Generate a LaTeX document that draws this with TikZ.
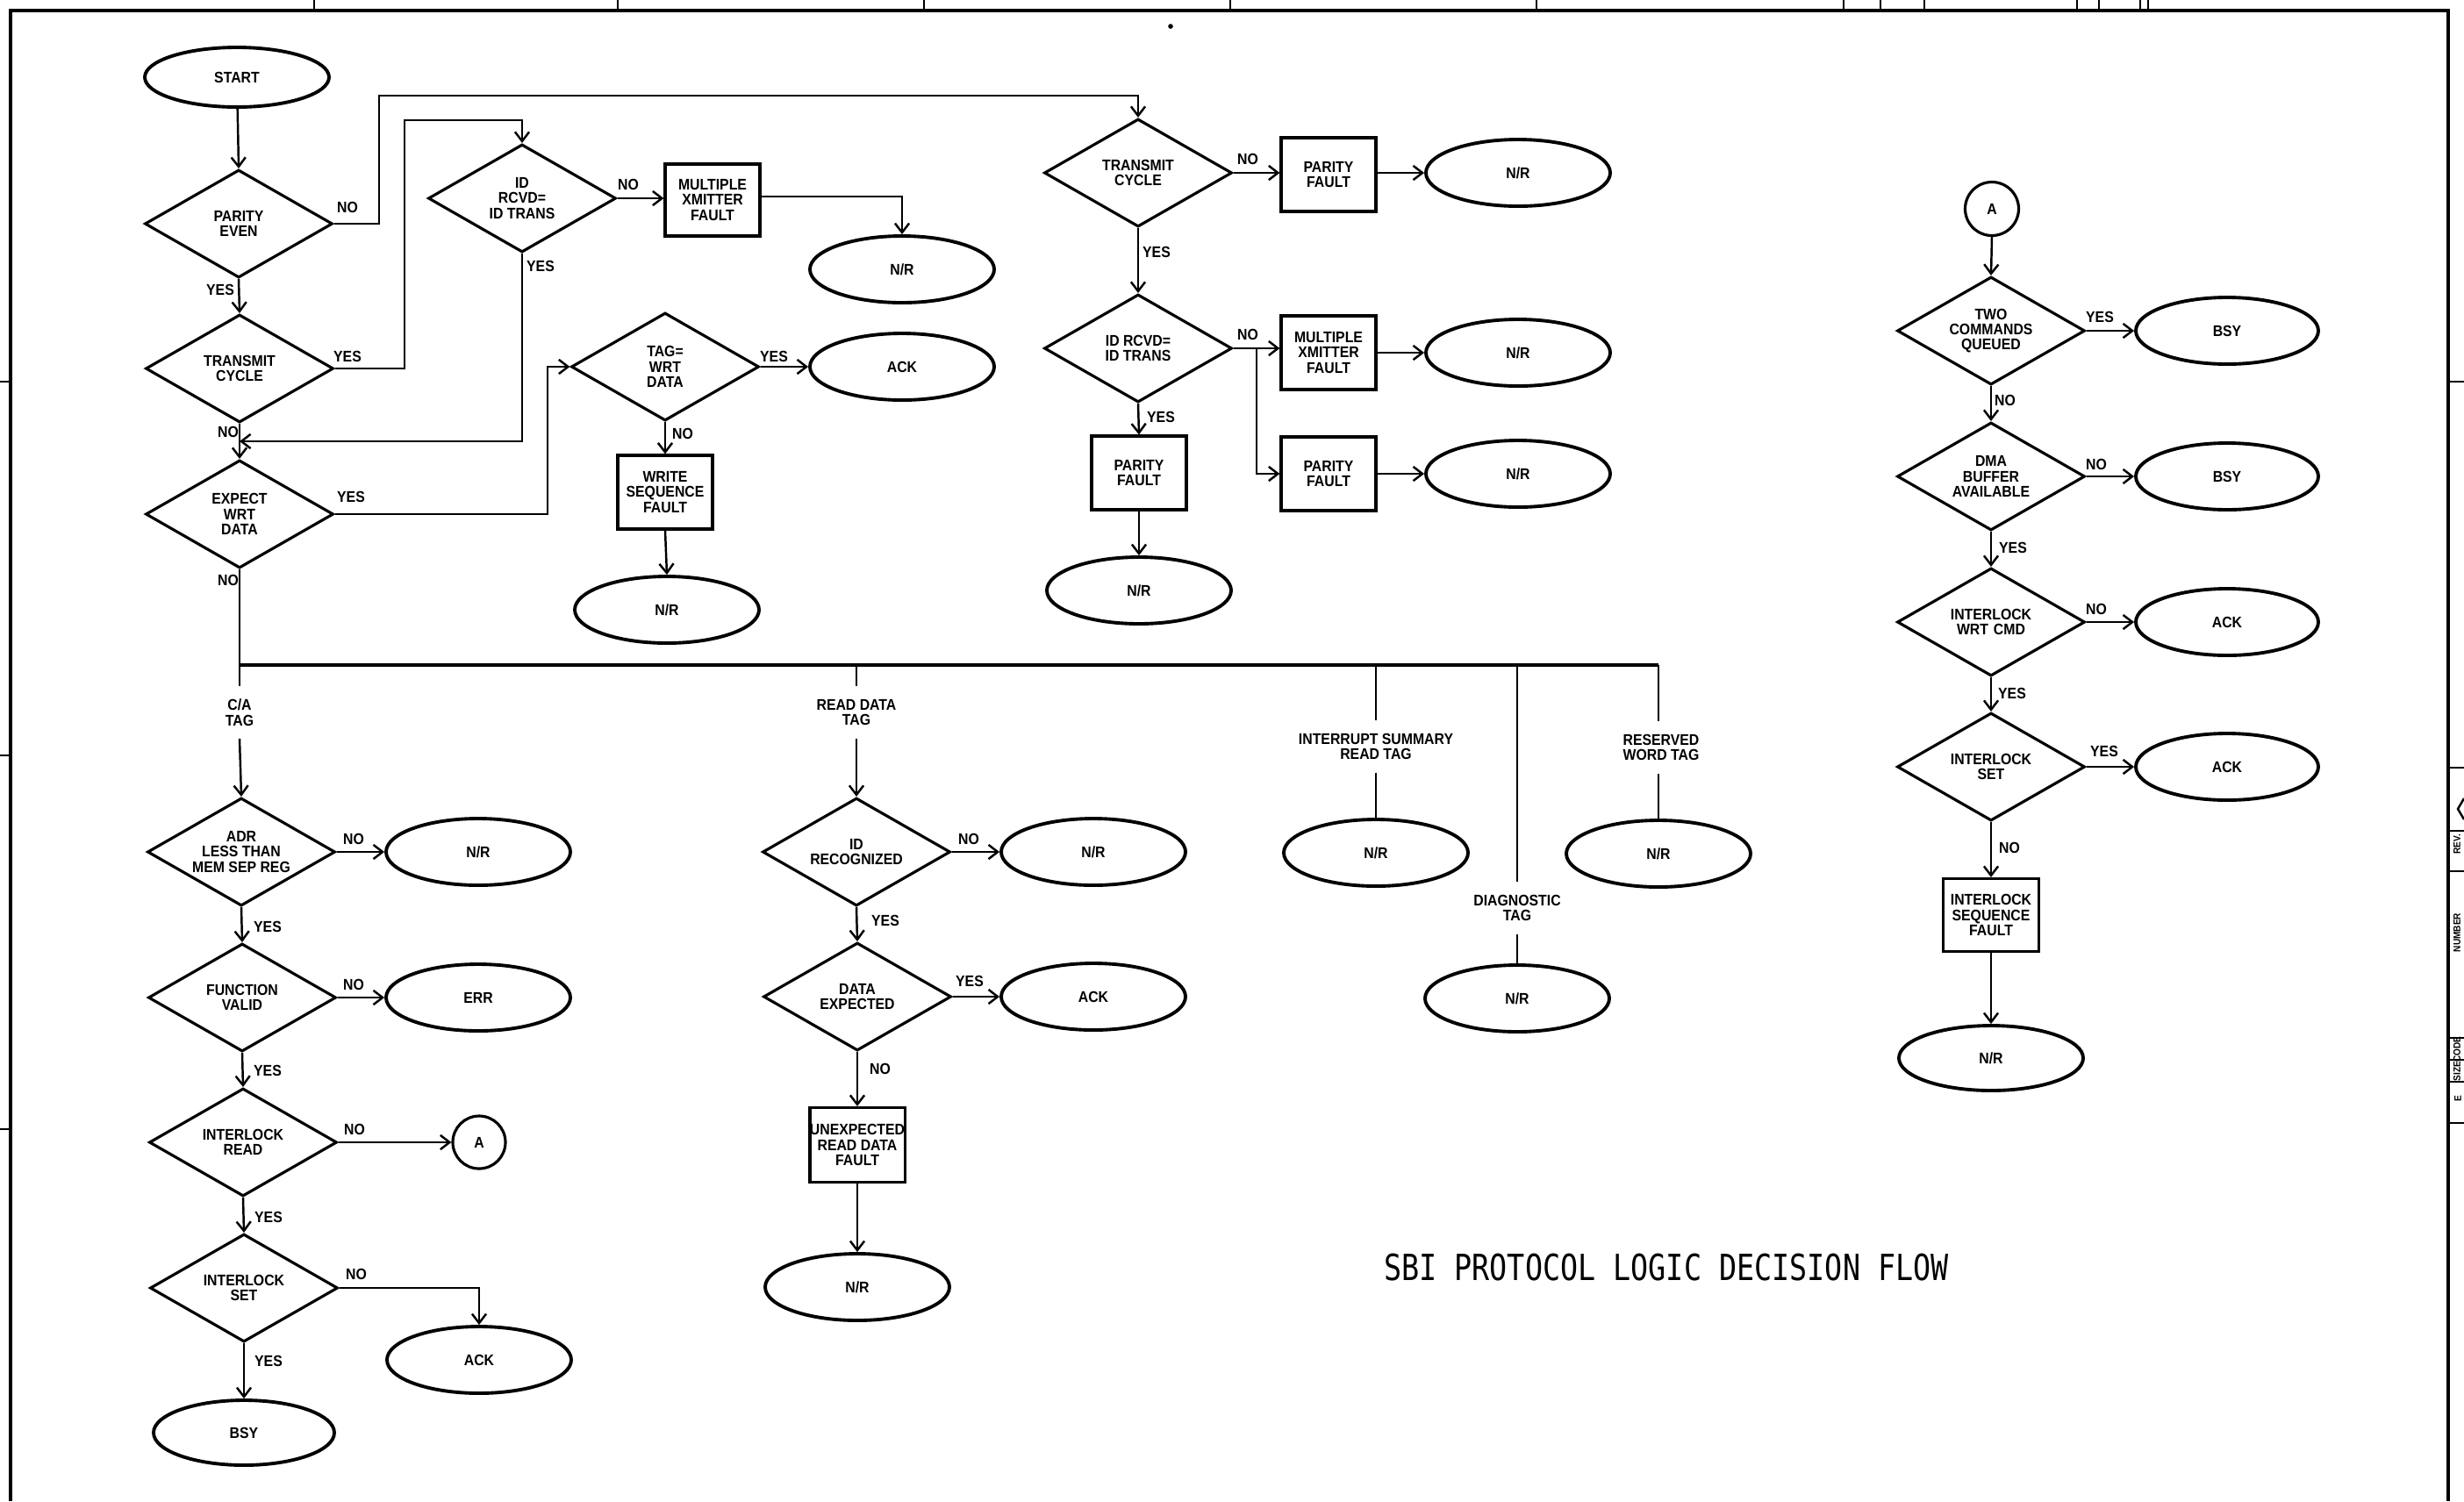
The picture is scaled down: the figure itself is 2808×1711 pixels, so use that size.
\documentclass[tikz,border=0pt]{standalone}
\usepackage{fontspec}
\usepackage{graphicx}
\usetikzlibrary{shapes.geometric,arrows.meta,calc}
\newfontfamily\plotfont{Liberation Sans}[FakeStretch=0.9]
\newfontfamily\titlefont{DejaVu Sans Mono}
\newlength\px \setlength\px{0.01cm}
\begin{document}
\begin{tikzpicture}[x=0.01cm,y=-0.01cm,
  every node/.style={font=\plotfont\bfseries\fontsize{5}{4.95}\selectfont, align=center},
  ln/.style={line width=0.7pt},
  arr/.style={ln,-{Straight Barb[length=3pt,width=4.6pt]}},
  dec/.style={diamond, draw, line width=0.9pt, aspect=1.74, minimum width=214\px, minimum height=123\px, inner sep=0pt},
  term/.style={ellipse, draw, line width=1.1pt, minimum width=210\px, minimum height=76\px, inner sep=0pt},
  proc/.style={rectangle, draw, line width=0.9pt, minimum width=108\px, minimum height=84\px, inner sep=0pt},
  conn/.style={circle, draw, line width=0.9pt, minimum size=61\px, inner sep=0pt},
  lbl/.style={inner sep=0pt},
  tagl/.style={inner sep=4pt},
  tiny/.style={font=\plotfont\bfseries\fontsize{3.2}{3.5}\selectfont, inner sep=0pt, rotate=90},
  frame/.style={line width=1pt}]
\useasboundingbox (0,0) rectangle (2808,1711);

% ---------- sheet frame ----------
\draw[frame] (12,1711) -- (12,12) -- (2790,12) -- (2790,1711);
\foreach \x in {358,704,1053,1402,1751,2101,2143,2193,2367,2392,2439,2448}
  \draw[ln] (\x,0) -- (\x,12);
\foreach \y in {435,861,1287}
  \draw[ln] (0,\y) -- (12,\y);
\foreach \y in {435,875,947,993,1183,1208,1233,1280}
  \draw[ln] (2790,\y) -- (2808,\y);
\draw[ln] (2808,910) -- (2801,922) -- (2808,934);
\node[tiny] (rev) at (2800,962) {REV.};
\node[tiny] (num) at (2800,1063) {NUMBER};
\node[tiny] (code) at (2800,1196) {CODE};
\node[tiny] (size) at (2800,1221) {SIZE};
\node[tiny] (sz) at (2801,1252) {E};
\fill (1334,30) circle[radius=0.8pt];

% ---------- nodes: top-left ----------
\node[term, minimum height=68\px] (start) at (270,88) {START};
\node[dec] (pe) at (272,255) {PARITY\\EVEN};
\node[dec] (tca) at (273,420) {TRANSMIT\\CYCLE};
\node[dec] (ewd) at (273,586) {EXPECT\\WRT\\DATA};
\node[dec] (idra) at (595,226) {ID\\RCVD=\\ID TRANS};
\node[proc, minimum height=82\px] (mxfa) at (812,228) {MULTIPLE\\XMITTER\\FAULT};
\node[term] (nra) at (1028,307) {N/R};
\node[dec] (tag) at (758,418) {TAG=\\WRT\\DATA};
\node[term] (acka) at (1028,418) {ACK};
\node[proc] (wsf) at (758,561) {WRITE\\SEQUENCE\\FAULT};
\node[term] (nrb) at (760,695) {N/R};

% ---------- nodes: top-middle ----------
\node[dec] (tcb) at (1297,197) {TRANSMIT\\CYCLE};
\node[proc] (pfa) at (1514,199) {PARITY\\FAULT};
\node[term] (nrc) at (1730,197) {N/R};
\node[dec] (idrb) at (1297,397) {ID RCVD=\\ID TRANS};
\node[proc] (mxfb) at (1514,402) {MULTIPLE\\XMITTER\\FAULT};
\node[term] (nrd) at (1730,402) {N/R};
\node[proc] (pfb) at (1514,540) {PARITY\\FAULT};
\node[term] (nre) at (1730,540) {N/R};
\node[proc] (pfc) at (1298,539) {PARITY\\FAULT};
\node[term] (nrf) at (1298,673) {N/R};

% ---------- connectors: top-left ----------
\coordinate (c1) at (432,109);
\coordinate (c2) at (461,137);
\coordinate (j1) at (273,503);
\coordinate (c4) at (624,418);
\draw[arr] (start) -- (pe.north);
\draw[arr] (pe.east) -| (c1) -| (tcb.north);
\draw[arr] (pe.south) -- (tca.north);
\draw[arr] (tca.east) -| (c2) -| (idra.north);
\draw[arr] (tca.south) -- (ewd.north);
\draw[arr] (idra.south) |- (j1);
\draw[arr] (idra.east) -- (mxfa.west |- idra.east);
\draw[arr] (mxfa.east |- 0,224) -| (nra.north);
\draw[arr] (ewd.east) -| (c4) -- (tag.west);
\draw[arr] (tag.east) -- (acka.west);
\draw[arr] (tag.south) -- (wsf.north);
\draw[arr] (wsf.south) -- (nrb.north);

\node[lbl] (l1) at (396,236) {NO};
\node[lbl] (l2) at (251,330) {YES};
\node[lbl] (l3) at (396,406) {YES};
\node[lbl] (l4) at (260,492) {NO};
\node[lbl] (l5) at (716,210) {NO};
\node[lbl] (l6) at (616,303) {YES};
\node[lbl] (l7) at (400,566) {YES};
\node[lbl] (l8) at (260,661) {NO};
\node[lbl] (l9) at (882,406) {YES};
\node[lbl] (l10) at (778,494) {NO};

% ---------- connectors: top-middle ----------
\coordinate (br) at (1432,397);
\draw[arr] (tcb.east) -- (pfa.west |- tcb.east);
\draw[arr] (pfa.east |- nrc.west) -- (nrc.west);
\draw[arr] (tcb.south) -- (idrb.north);
\draw[arr] (idrb.east) -- (mxfb.west |- idrb.east);
\draw[arr] (br) |- (pfb.west);
\draw[arr] (mxfb.east) -- (nrd.west);
\draw[arr] (pfb.east) -- (nre.west);
\draw[arr] (idrb.south) -- (pfc.north);
\draw[arr] (pfc.south) -- (nrf.north);

\node[lbl] (l11) at (1422,181) {NO};
\node[lbl] (l12) at (1318,287) {YES};
\node[lbl] (l13) at (1422,381) {NO};
\node[lbl] (l14) at (1323,475) {YES};

% ---------- right column ----------
\node[conn] (ab) at (2270,238) {A};
\node[dec] (tcq) at (2269,377) {TWO\\COMMANDS\\QUEUED};
\node[term, minimum width=208\px] (bsya) at (2538,377) {BSY};
\node[dec] (dma) at (2269,543) {DMA\\BUFFER\\AVAILABLE};
\node[term, minimum width=208\px] (bsyb) at (2538,543) {BSY};
\node[dec] (iwc) at (2269,709) {INTERLOCK\\WRT\,\,CMD};
\node[term, minimum width=208\px] (ackb) at (2538,709) {ACK};
\node[dec] (isb) at (2269,874) {INTERLOCK\\SET};
\node[term, minimum width=208\px] (ackc) at (2538,874) {ACK};
\node[proc, minimum width=109\px, minimum height=83\px] (isf) at (2269,1043) {INTERLOCK\\SEQUENCE\\FAULT};
\node[term, minimum height=74\px] (nrg) at (2269,1206) {N/R};

\draw[arr] (ab.south) -- (tcq.north);
\draw[arr] (tcq.east) -- (bsya.west);
\draw[arr] (tcq.south) -- (dma.north);
\draw[arr] (dma.east) -- (bsyb.west);
\draw[arr] (dma.south) -- (iwc.north);
\draw[arr] (iwc.east) -- (ackb.west);
\draw[arr] (iwc.south) -- (isb.north);
\draw[arr] (isb.east) -- (ackc.west);
\draw[arr] (isb.south) -- (isf.north);
\draw[arr] (isf.south) -- (nrg.north);

\node[lbl] (l15) at (2393,361) {YES};
\node[lbl] (l16) at (2285,456) {NO};
\node[lbl] (l17) at (2389,529) {NO};
\node[lbl] (l18) at (2294,624) {YES};
\node[lbl] (l19) at (2389,694) {NO};
\node[lbl] (l20) at (2293,790) {YES};
\node[lbl] (l21) at (2398,856) {YES};
\node[lbl] (l22) at (2290,966) {NO};

% ---------- bus ----------
\coordinate (busL) at (273,758);
\coordinate (b1) at (976,758);
\coordinate (b2) at (1568,758);
\coordinate (b3) at (1729,758);
\coordinate (busR) at (1890,758);
\draw[ln, line width=0.9pt] (busL) -- (busR);

\node[tagl] (catag) at (273,812) {C/A\\TAG};
\node[tagl] (rdtag) at (976,812) {READ DATA\\TAG};
\node[tagl] (istag) at (1568,851) {INTERRUPT SUMMARY\\READ TAG};
\node[tagl] (dtag) at (1729,1035) {DIAGNOSTIC\\TAG};
\node[tagl] (rwtag) at (1893,852) {RESERVED\\WORD TAG};

\draw[ln] (ewd.south) -- (catag.north);
\draw[ln] (b1) -- (rdtag.north);
\draw[ln] (b2) -- (istag.north);
\draw[ln] (b3) -- (dtag.north);
\draw[ln] (busR) -- (busR |- rwtag.north);

% ---------- lower left ----------
\node[dec] (adr) at (275,971) {ADR\\LESS THAN\\MEM SEP REG};
\node[term] (nrh) at (545,971) {N/R};
\node[dec] (fv) at (276,1137) {FUNCTION\\VALID};
\node[term] (err) at (545,1137) {ERR};
\node[dec] (ilr) at (277,1302) {INTERLOCK\\READ};
\node[conn, minimum size=60\px] (aa) at (546,1302) {A};
\node[dec] (ils) at (278,1468) {INTERLOCK\\SET};
\node[term] (ackd) at (546,1550) {ACK};
\node[term, minimum width=206\px, minimum height=74\px] (bsyc) at (278,1633) {BSY};

\draw[arr] (catag.south) -- (adr.north);
\draw[arr] (adr.east) -- (nrh.west);
\draw[arr] (adr.south) -- (fv.north);
\draw[arr] (fv.east) -- (err.west);
\draw[arr] (fv.south) -- (ilr.north);
\draw[arr] (ilr.east) -- (aa.west);
\draw[arr] (ilr.south) -- (ils.north);
\draw[arr] (ils.east) -| (ackd.north);
\draw[arr] (ils.south) -- (bsyc.north);

\node[lbl] (l23) at (403,956) {NO};
\node[lbl] (l24) at (305,1056) {YES};
\node[lbl] (l25) at (403,1122) {NO};
\node[lbl] (l26) at (305,1220) {YES};
\node[lbl] (l27) at (404,1287) {NO};
\node[lbl] (l28) at (306,1387) {YES};
\node[lbl] (l29) at (406,1452) {NO};
\node[lbl] (l30) at (306,1551) {YES};

% ---------- read data column ----------
\node[dec] (idrec) at (976,971) {ID\\RECOGNIZED};
\node[term] (nri) at (1246,971) {N/R};
\node[dec] (dexp) at (977,1136) {DATA\\EXPECTED};
\node[term] (acke) at (1246,1136) {ACK};
\node[proc, minimum height=85\px] (urdf) at (977,1305) {UNEXPECTED\\READ DATA\\FAULT};
\node[term] (nrj) at (977,1467) {N/R};

\draw[arr] (rdtag.south) -- (idrec.north);
\draw[arr] (idrec.east) -- (nri.west);
\draw[arr] (idrec.south) -- (dexp.north);
\draw[arr] (dexp.east) -- (acke.west);
\draw[arr] (dexp.south) -- (urdf.north);
\draw[arr] (urdf.south) -- (nrj.north);

\node[lbl] (l31) at (1104,956) {NO};
\node[lbl] (l32) at (1009,1049) {YES};
\node[lbl] (l33) at (1105,1118) {YES};
\node[lbl] (l34) at (1003,1218) {NO};

% ---------- other tags ----------
\node[term] (nrk) at (1568,972) {N/R};
\node[term] (nrl) at (1729,1138) {N/R};
\node[term] (nrm) at (1890,973) {N/R};
\draw[ln] (istag.south) -- (nrk.north);
\draw[ln] (dtag.south) -- (nrl.north);
\draw[ln] (rwtag.south -| nrm.north) -- (nrm.north);

% ---------- title ----------
\node[inner sep=0pt] (title) at (1899,1445)
  {\scalebox{1}[1.23]{\titlefont\mdseries\fontsize{9.5}{10}\selectfont SBI PROTOCOL LOGIC DECISION FLOW}};
\end{tikzpicture}
\end{document}
